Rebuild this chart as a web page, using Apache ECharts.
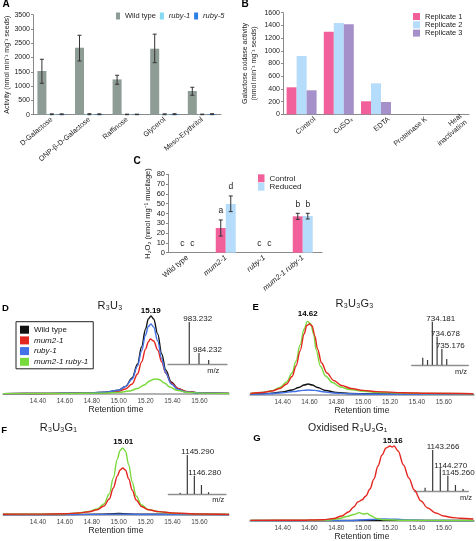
<!DOCTYPE html>
<html><head><meta charset="utf-8">
<script src="https://cdn.jsdelivr.net/npm/echarts@6/dist/echarts.min.js"></script>
<style>html,body{margin:0;padding:0;background:#fff}#c{width:476px;height:541px}</style>
</head><body><div id="c"></div>
<script>
// ---------- Panel A ----------
const aCategories = ['D-Galactose', 'ONP-β-D-Galactose', 'Raffinose', 'Glycerol', 'Meso-Erythritol'];
const aWildType = [1530, 2345, 1235, 2310, 830];
const aWildTypeLow = [1100, 1880, 1065, 1820, 680];
const aWildTypeHigh = [1940, 2780, 1380, 2820, 960];
const aRuby1 = [15, 20, 10, 15, 10];
const aRuby1High = [30, 35, 20, 30, 20];
const aRuby5 = [15, 15, 10, 20, 20];
const aRuby5High = [30, 30, 20, 35, 35];
// ---------- Panel B ----------
const bCategories = ['Control', 'CuSO₄', 'EDTA', 'Proteinase K', 'Heat\ninactivation'];
const bRep1 = [425, 1300, 205, 0, 0];
const bRep2 = [918, 1438, 488, 0, 0];
const bRep3 = [378, 1417, 194, 0, 0];
// ---------- Panel C ----------
const cCategories = ['Wild type', 'mum2-1', 'ruby-1', 'mum2-1 ruby-1'];
const cControl = [0, 25.2, 0, 37.1];
const cControlLow = [0, 17, 0, 34];
const cControlHigh = [0, 33.4, 0, 40.2];
const cReduced = [0, 49.7, 0, 37.4];
const cReducedLow = [0, 41.9, 0, 34.4];
const cReducedHigh = [0, 57.9, 0, 40.2];
const cControlLetters = ['c', 'a', 'c', 'b'];
const cReducedLetters = ['c', 'd', 'c', 'b'];
// ---------- Chromatograms ----------
const rtTicks = [14.4, 14.6, 14.8, 15.0, 15.2, 15.4, 15.6];
// D  R3U3
const dWildType = [[14.14,0.4],[14.40,0.5],[14.60,0.7],[14.80,1.1],[14.90,1.8],[15.00,3.8],[15.05,7.5],[15.10,16],[15.14,30],[15.17,47],[15.20,65],[15.22,75],[15.24,78],[15.26,75],[15.29,60],[15.32,40],[15.35,24],[15.39,12],[15.44,5.5],[15.50,2.4],[15.60,1.1],[15.82,0.6]];
const dMum21 = [[14.14,0.4],[14.40,0.5],[14.60,0.6],[14.80,0.9],[14.90,1.3],[15.00,2.6],[15.05,5],[15.10,10],[15.14,20],[15.17,32],[15.20,45],[15.22,52],[15.235,55],[15.26,53],[15.29,44],[15.32,32],[15.35,21],[15.39,11],[15.44,5.5],[15.50,2.6],[15.60,1.2],[15.82,0.6]];
const dRuby1 = [[14.14,0.4],[14.40,0.5],[14.60,0.7],[14.80,1.1],[14.90,1.8],[15.00,3.8],[15.05,7.5],[15.10,15],[15.14,28],[15.17,43],[15.20,59],[15.22,67.5],[15.24,70],[15.26,67],[15.29,53],[15.32,35],[15.35,21],[15.39,10],[15.44,4.5],[15.50,2],[15.60,1],[15.82,0.6]];
const dDouble = [[14.14,0.4],[14.60,0.5],[14.90,0.9],[15.00,1.6],[15.08,3],[15.14,5.5],[15.19,9],[15.23,13],[15.26,14.7],[15.28,15],[15.30,14.5],[15.34,11],[15.38,7],[15.43,3.8],[15.50,1.8],[15.60,0.9],[15.82,0.5]];
// E  R3U3G3
const eWildType = [[14.16,0.8],[14.30,1.6],[14.40,3],[14.47,5],[14.52,7.5],[14.56,10],[14.59,11],[14.62,10],[14.66,7.5],[14.72,4.5],[14.80,2.5],[14.90,1.5],[15.10,1],[15.82,0.8]];
const eMum21 = [[14.16,1.5],[14.25,2.5],[14.32,4],[14.38,6.5],[14.43,11],[14.47,18.5],[14.50,29],[14.53,44],[14.56,61],[14.58,69.5],[14.60,71],[14.62,69],[14.64,59],[14.66,46],[14.69,32],[14.73,22],[14.78,14.5],[14.84,9.5],[14.91,6.5],[15.00,4.6],[15.10,3.4],[15.30,2.3],[15.50,1.7],[15.82,1.3]];
const eRuby1 = [[14.16,0.6],[14.30,1.2],[14.40,2.2],[14.48,3.5],[14.55,4.6],[14.59,5],[14.64,4.6],[14.70,3.3],[14.78,2],[14.90,1.2],[15.10,0.8],[15.82,0.6]];
const eDouble = [[14.16,1.5],[14.25,2.6],[14.32,4.2],[14.38,7.5],[14.43,13],[14.47,22],[14.50,34],[14.53,50],[14.56,66],[14.585,73.6],[14.61,71],[14.63,61],[14.65,45],[14.68,29],[14.72,19],[14.77,12.5],[14.83,8],[14.90,5.5],[15.00,3.8],[15.10,2.8],[15.30,2],[15.50,1.5],[15.82,1.2]];
// F  R3U3G1
const fWildType = [[14.14,0.5],[14.60,0.5],[14.85,0.8],[15.00,1.5],[15.15,0.8],[15.82,0.5]];
const fMum21 = [[14.14,0.8],[14.40,0.9],[14.60,1.2],[14.70,2],[14.78,3.3],[14.84,5.2],[14.89,9],[14.93,16],[14.96,27],[14.99,39],[15.01,45],[15.03,47],[15.05,45],[15.075,36],[15.10,25],[15.13,15],[15.17,8.5],[15.22,5.2],[15.30,3.4],[15.40,2],[15.60,1],[15.82,0.6]];
const fRuby1 = [[14.14,0.4],[14.60,0.4],[15.00,0.9],[15.20,0.5],[15.82,0.4]];
const fDouble = [[14.14,0.8],[14.40,0.9],[14.60,1.2],[14.70,2],[14.78,3.5],[14.84,6],[14.89,11],[14.93,21],[14.96,37],[14.99,56],[15.01,64.5],[15.03,67],[15.05,64],[15.075,50],[15.10,33],[15.13,19],[15.17,10],[15.22,5.5],[15.30,3.2],[15.40,1.8],[15.60,0.9],[15.82,0.6]];
// G  Oxidised R3U3G1
const gWildType = [[14.16,0.6],[14.60,0.5],[15.00,0.6],[15.20,0.8],[15.50,0.5],[15.82,0.5]];
const gMum21 = [[14.16,0.6],[14.50,0.7],[14.70,1.3],[14.78,2.5],[14.84,5],[14.89,9],[14.93,14],[14.96,19],[14.99,21],[15.02,25],[15.05,32],[15.08,42],[15.11,55],[15.14,66],[15.17,73],[15.20,75],[15.215,74],[15.23,75],[15.26,70],[15.30,56],[15.34,43],[15.38,31],[15.43,20],[15.48,13],[15.54,8],[15.60,5],[15.66,3.5],[15.72,2.8],[15.82,2]];
const gRuby1 = [[14.16,0.3],[14.90,0.4],[15.05,1.5],[15.15,2],[15.25,1.8],[15.35,1],[15.50,0.5],[15.82,0.3]];
const gDouble = [[14.16,0.5],[14.60,0.6],[14.75,1],[14.82,2.5],[14.88,4.5],[14.93,6.5],[14.97,8.4],[15.00,7],[15.03,7.5],[15.06,5],[15.10,2.5],[15.15,1.2],[15.30,0.7],[15.82,0.5]];
// Mass spectra insets
const dMz = [983.232, 984.232, 985.23];
const dInt = [42, 11, 4];
const dLabeled = [true, true, false];
const eMz = [733.18, 733.68, 734.181, 734.678, 735.176, 735.68];
const eInt = [7.3, 5, 43.3, 28.3, 16, 6];
const eLabeled = [false, false, true, true, true, false];
const fMz = [1144.28, 1145.290, 1146.280, 1147.28, 1148.28];
const fInt = [1.2, 39, 18.3, 9, 1.8];
const fLabeled = [false, true, true, false, false];
const gMz = [1142.27, 1143.266, 1144.270, 1145.260, 1146.26, 1147.26];
const gInt = [3.3, 41, 22.7, 15.3, 6, 2];
const gLabeled = [false, true, true, true, false, false];

const FONT = 'Liberation Sans, Arial, Helvetica, sans-serif';
const AX = '#8a8a8a';
const TXT = '#222';
const COL = {wt: '#111111', mum: '#e3261f', ruby: '#4272e6', dbl: '#78d93c'};

const chart = echarts.init(document.getElementById('c'), null, {renderer: 'canvas', width: 476, height: 541});

function grid(left, top, width, height) {
  return {left, top, width, height, containLabel: false, outerBoundsMode: 'none'};
}
function hiddenY(gi, max) {
  return {gridIndex: gi, type: 'value', min: 0, max, show: false};
}
function italicFmt(v) {
  return v === 'Wild type' ? v : '{i|' + v + '}';
}
function errRender(offset, capHalf, letters) {
  return function (params, api) {
    const i = api.value(0);
    const lo = api.coord([i, api.value(1)]);
    const hi = api.coord([i, api.value(2)]);
    const x = lo[0] + offset;
    const st = {stroke: '#333', lineWidth: 1};
    const ch = [];
    if (api.value(2) > api.value(1)) {
      ch.push({type: 'line', shape: {x1: x, y1: lo[1], x2: x, y2: hi[1]}, style: st});
      ch.push({type: 'line', shape: {x1: x - capHalf, y1: lo[1], x2: x + capHalf, y2: lo[1]}, style: st});
      ch.push({type: 'line', shape: {x1: x - capHalf, y1: hi[1], x2: x + capHalf, y2: hi[1]}, style: st});
    }
    if (letters) {
      ch.push({type: 'text', x: x, y: hi[1] - 9, style: {text: letters[params.dataIndex], fontSize: 8.5, fontFamily: FONT, fill: TXT, align: 'center', verticalAlign: 'middle'}});
    }
    return {type: 'group', children: ch};
  };
}
function errSeries(gi, lows, highs, offset, capHalf, letters) {
  return {type: 'custom', xAxisIndex: gi, yAxisIndex: gi, silent: true, z: 10,
    encode: {x: 0, y: [1, 2]},
    data: lows.map((l, i) => [i, l, highs[i]]),
    renderItem: errRender(offset, capHalf, letters)};
}
function chromX(gi, min, max) {
  return {gridIndex: gi, type: 'value', min, max,
    axisLine: {lineStyle: {color: '#9a9a9a', width: 1.5}}, axisTick: {show: false}, splitLine: {show: false},
    axisLabel: {customValues: rtTicks, formatter: v => v.toFixed(2), fontSize: 6.5, color: '#444', margin: 3.5},
    name: 'Retention time', nameLocation: 'middle', nameGap: 10, nameTextStyle: {fontSize: 8.5, color: TXT}};
}
function trace(name, data, color, gi) {
  return {name: name + '|c', type: 'line', xAxisIndex: gi, yAxisIndex: gi, data, symbol: 'none', showSymbol: false,
    smooth: 0.35, smoothMonotone: 'x', color, itemStyle: {color}, lineStyle: {color, width: 1.4}, silent: true, z: 3};
}
function specX(gi, min, max) {
  return {gridIndex: gi, type: 'value', min, max, axisLine: {onZero: false, lineStyle: {color: '#8f8f8f', width: 1.3}},
    axisTick: {show: false}, axisLabel: {show: false}, splitLine: {show: false}};
}
function spectrum(gi, mz, inten, labeled) {
  return {type: 'bar', xAxisIndex: gi, yAxisIndex: gi, barWidth: 1.2, silent: true,
    itemStyle: {color: '#3a3a3a'},
    data: mz.map((m, k) => ({value: [m, inten[k]], label: {show: labeled[k]}})),
    label: {position: 'top', distance: 0, align: 'left', offset: [-6, 1], fontSize: 8, color: TXT,
      formatter: p => p.value[0].toFixed(3)}};
}
function T(text, x, y, size, extra) {
  return {type: 'text', x, y, silent: true,
    style: Object.assign({text, fontSize: size, fontFamily: FONT, fill: TXT, align: 'center', verticalAlign: 'middle'}, extra || {})};
}
const bold = {fontWeight: 'bold', fill: '#000'};
const plain = v => String(v);

const valueAxisStyle = {
  splitLine: {show: false},
  axisLine: {show: true, lineStyle: {color: AX}},
  axisTick: {show: true, length: 2, lineStyle: {color: AX}},
};

const option = {
  animation: false,
  backgroundColor: '#fff',
  textStyle: {fontFamily: FONT},
  grid: [
    grid(33, 14.7, 188, 100),        // 0 A
    grid(283, 12.7, 186, 101.6),     // 1 B
    grid(296, 12.7, 186, 101.6),     // 2 B labels
    grid(168, 174.3, 154, 78.4),     // 3 C
    grid(3, 310, 226, 84),           // 4 D
    grid(168, 320, 59, 44),          // 5 D inset
    grid(250, 311, 224, 84),         // 6 E
    grid(411.7, 320, 56.6, 45),      // 7 E inset
    grid(3, 431, 226, 84),           // 8 F
    grid(168.3, 452, 57.7, 42),      // 9 F inset
    grid(250, 437, 224, 84),         // 10 G
    grid(414.3, 449, 54, 42)         // 11 G inset
  ],
  xAxis: [
    {gridIndex: 0, type: 'category', data: aCategories, axisLine: {lineStyle: {color: AX}}, axisTick: {show: false},
      axisLabel: {interval: 0, rotate: 40, fontSize: 7.2, color: TXT, margin: 4}},
    {gridIndex: 1, type: 'category', data: bCategories, axisLine: {lineStyle: {color: AX}}, axisTick: {show: false},
      axisLabel: {show: false}},
    {gridIndex: 2, type: 'category', data: bCategories, axisLine: {show: false}, axisTick: {show: false},
      axisLabel: {interval: 0, rotate: 40, fontSize: 7.2, color: TXT, margin: 4, lineHeight: 8}},
    {gridIndex: 3, type: 'category', data: cCategories, axisLine: {lineStyle: {color: AX}}, axisTick: {show: false},
      axisLabel: {interval: 0, rotate: 40, fontSize: 7.5, color: TXT, margin: 4, formatter: italicFmt,
        rich: {i: {fontStyle: 'italic', fontSize: 7.5, color: TXT}}}},
    chromX(4, 14.14, 15.82),
    specX(5, 981.04, 987.12),
    chromX(6, 14.157, 15.825),
    specX(7, 732.03, 737.93),
    chromX(8, 14.14, 15.82),
    specX(9, 1142.61, 1150.74),
    chromX(10, 14.157, 15.825),
    specX(11, 1140.85, 1147.95)
  ],
  yAxis: [
    Object.assign({gridIndex: 0, type: 'value', min: 0, max: 3500, interval: 500,
      axisLabel: {fontSize: 7, color: TXT, margin: 3, formatter: plain},
      name: 'Activity (nmol min⁻¹ mg⁻¹ seeds)', nameLocation: 'middle', nameGap: 22,
      nameTextStyle: {fontSize: 7, color: TXT}}, valueAxisStyle),
    Object.assign({gridIndex: 1, type: 'value', min: 0, max: 1600, interval: 200,
      axisLabel: {fontSize: 7, color: TXT, margin: 3, formatter: plain},
      name: 'Galactose oxidase activity\n(nmol min⁻¹ mg⁻¹ seeds)', nameLocation: 'middle', nameGap: 25,
      nameTextStyle: {fontSize: 7, color: TXT, lineHeight: 8.5}}, valueAxisStyle),
    {gridIndex: 2, type: 'value', min: 0, max: 1, show: false},
    Object.assign({gridIndex: 3, type: 'value', min: 0, max: 80, interval: 10,
      axisLabel: {fontSize: 7.5, color: TXT, margin: 3, formatter: plain},
      name: 'H₂O₂ (nmol mg⁻¹ mucilage)', nameLocation: 'middle', nameGap: 16,
      nameTextStyle: {fontSize: 7.5, color: TXT}}, valueAxisStyle),
    hiddenY(4, 84), hiddenY(5, 44), hiddenY(6, 84), hiddenY(7, 45),
    hiddenY(8, 84), hiddenY(9, 42), hiddenY(10, 84), hiddenY(11, 42)
  ],
  legend: [
    {data: ['Wild type|a', 'ruby-1|a', 'ruby-5|a'], left: 116, top: 12, icon: 'rect', itemWidth: 4, itemHeight: 7,
      itemGap: 4, padding: 0, selectedMode: false,
      formatter: n => italicFmt(n.split('|')[0]),
      textStyle: {fontSize: 7.5, color: TXT, rich: {i: {fontStyle: 'italic', fontSize: 7.5, color: TXT}}}},
    {data: ['Replicate 1', 'Replicate 2', 'Replicate 3'], orient: 'vertical', left: 413, top: 12.5, icon: 'rect',
      itemWidth: 7, itemHeight: 7, itemGap: 0.3, padding: 0, selectedMode: false,
      textStyle: {fontSize: 7.5, lineHeight: 7, color: TXT}},
    {data: ['Control', 'Reduced'], orient: 'vertical', left: 258, top: 174.3, icon: 'rect',
      itemWidth: 6.5, itemHeight: 8, itemGap: 0.4, padding: 0, selectedMode: false,
      textStyle: {fontSize: 8, lineHeight: 8, color: TXT}},
    {data: ['Wild type|c', 'mum2-1|c', 'ruby-1|c', 'mum2-1 ruby-1|c'], orient: 'vertical', left: 16, top: 321.7,
      icon: 'rect', itemWidth: 9, itemHeight: 8, itemGap: 2.7, padding: [4, 5, 3, 4],
      borderColor: '#222', borderWidth: 1, selectedMode: false,
      formatter: n => italicFmt(n.split('|')[0]),
      textStyle: {fontSize: 8, color: '#111', rich: {i: {fontStyle: 'italic', fontSize: 8, color: '#111'}}}}
  ],
  series: [
    // A
    {name: 'Wild type|a', type: 'bar', xAxisIndex: 0, yAxisIndex: 0, data: aWildType, barWidth: 9, barGap: '10%', itemStyle: {color: '#8e9c96'}},
    {name: 'ruby-1|a', type: 'bar', xAxisIndex: 0, yAxisIndex: 0, data: aRuby1, barWidth: 9, barGap: '10%', itemStyle: {color: '#84d8f2'}},
    {name: 'ruby-5|a', type: 'bar', xAxisIndex: 0, yAxisIndex: 0, data: aRuby5, barWidth: 9, barGap: '10%', itemStyle: {color: '#2d7fe3'}},
    errSeries(0, aWildTypeLow, aWildTypeHigh, -9.9, 2, null),
    errSeries(0, aRuby1.map(() => 0), aRuby1High, 0, 2, null),
    errSeries(0, aRuby5.map(() => 0), aRuby5High, 9.9, 2, null),
    // B
    {name: 'Replicate 1', type: 'bar', xAxisIndex: 1, yAxisIndex: 1, data: bRep1, barWidth: 10, barGap: '0%', itemStyle: {color: '#f2609b'}},
    {name: 'Replicate 2', type: 'bar', xAxisIndex: 1, yAxisIndex: 1, data: bRep2, barWidth: 10, barGap: '0%', itemStyle: {color: '#b5dcfb'}},
    {name: 'Replicate 3', type: 'bar', xAxisIndex: 1, yAxisIndex: 1, data: bRep3, barWidth: 10, barGap: '0%', itemStyle: {color: '#a690c9'}},
    // C
    {name: 'Control', type: 'bar', xAxisIndex: 3, yAxisIndex: 3, data: cControl, barWidth: 10, barGap: '0%', itemStyle: {color: '#f2609b'}},
    {name: 'Reduced', type: 'bar', xAxisIndex: 3, yAxisIndex: 3, data: cReduced, barWidth: 10, barGap: '0%', itemStyle: {color: '#b5dcfb'}},
    errSeries(3, cControlLow, cControlHigh, -5, 2, cControlLetters),
    errSeries(3, cReducedLow, cReducedHigh, 5, 2, cReducedLetters),
    // D
    trace('Wild type', dWildType, COL.wt, 4), trace('mum2-1', dMum21, COL.mum, 4),
    trace('ruby-1', dRuby1, COL.ruby, 4), trace('mum2-1 ruby-1', dDouble, COL.dbl, 4),
    spectrum(5, dMz, dInt, dLabeled),
    // E
    trace('Wild type', eWildType, COL.wt, 6), trace('ruby-1', eRuby1, COL.ruby, 6),
    trace('mum2-1 ruby-1', eDouble, COL.dbl, 6), trace('mum2-1', eMum21, COL.mum, 6),
    spectrum(7, eMz, eInt, eLabeled),
    // F
    trace('Wild type', fWildType, COL.wt, 8), trace('ruby-1', fRuby1, COL.ruby, 8),
    trace('mum2-1 ruby-1', fDouble, COL.dbl, 8), trace('mum2-1', fMum21, COL.mum, 8),
    spectrum(9, fMz, fInt, fLabeled),
    // G
    trace('Wild type', gWildType, COL.wt, 10), trace('ruby-1', gRuby1, COL.ruby, 10),
    trace('mum2-1 ruby-1', gDouble, COL.dbl, 10), trace('mum2-1', gMum21, COL.mum, 10),
    spectrum(11, gMz, gInt, gLabeled)
  ],
  graphic: {elements: [
    T('A', 6, 4.5, 10, bold), T('B', 245, 4, 10, bold), T('C', 137, 161.5, 10, bold),
    T('D', 5.5, 308.5, 9.5, bold), T('E', 255.7, 307.5, 9.5, bold), T('F', 4.2, 430, 9.5, bold), T('G', 257, 438.3, 9.5, bold),
    T('R₃U₃', 110, 305.5, 11), T('R₃U₃G₃', 354.5, 304, 11), T('R₃U₃G₁', 58.3, 428, 11), T('Oxidised R₃U₃G₁', 347.7, 428.5, 10.5),
    T('15.19', 150.8, 310.3, 8, bold), T('14.62', 307.7, 314.2, 8, bold), T('15.01', 123.3, 441.7, 8, bold), T('15.16', 392.7, 440.5, 8, bold),
    T('m/z', 213.3, 371, 7.5), T('m/z', 461, 371.7, 7.5), T('m/z', 218.3, 500, 7.5), T('m/z', 466, 497.7, 7.5)
  ]}
};
chart.setOption(option);
</script>
</body></html>
